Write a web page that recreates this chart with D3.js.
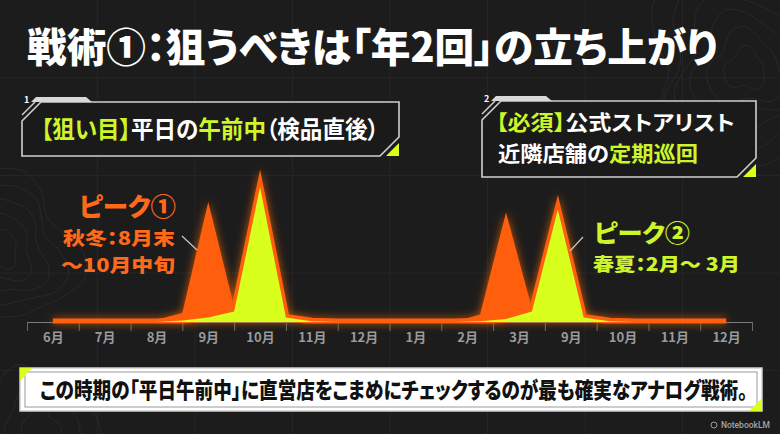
<!DOCTYPE html>
<html>
<head>
<meta charset="utf-8">
<script src="https://cdn.jsdelivr.net/npm/d3@7"></script>
<style>
  html, body { margin: 0; padding: 0; background: #1c1c1c; }
  svg { display: block; font-family: "Noto Sans CJK JP", "Noto Sans", sans-serif; }
  svg text { font-feature-settings: "palt"; }
</style>
</head>
<body>
<script>
// x axis categories (one band per month)
const months = ["6月","7月","8月","9月","10月","11月","12月","1月","2月","3月","9月","10月","11月","12月"]

// sample positions in month units (0 = first 6月) and the two series
const samplePos    = [0, 1.5, 2, 2.5, 3, 3.5, 4, 4.5, 5, 5.5, 7.75, 8.25, 8.75, 9.25, 9.75, 10.25, 10.75, 11.25, 13]
const orangeValues = [0, 0, 1.5, 6, 80, 10, 8, 4, 1, 0, 0, 5, 73, 9, 8, 3, 0.5, 0, 0]
const limeValues   = [0, 0, 0, 1, 3, 7, 90, 3, 0.5, 0, 0, 0.5, 2, 7, 75, 3, 0.5, 0, 0]

const W = 780, H = 434
const ORANGE = "#ff5e0e", LIME = "#d9ff1e", TXT_LIME = "#cdf52a"

const svg = d3.select("body").append("svg")
    .attr("width", W)
    .attr("height", H)

const defs = svg.append("defs")

const glow = defs.append("filter").attr("id", "glow")
    .attr("x", "-20%").attr("y", "-20%").attr("width", "140%").attr("height", "140%")
glow.append("feGaussianBlur").attr("in", "SourceAlpha").attr("stdDeviation", 4).attr("result", "b")
glow.append("feFlood").attr("flood-color", "#ff6a00").attr("flood-opacity", 0.75)
glow.append("feComposite").attr("in2", "b").attr("operator", "in").attr("result", "g")
const gm = glow.append("feMerge")
gm.append("feMergeNode").attr("in", "g")
gm.append("feMergeNode").attr("in", "SourceGraphic")

defs.append("clipPath").attr("id", "above")
  .append("rect").attr("x", 0).attr("y", 0).attr("width", W).attr("height", 323.5)

// background
svg.append("rect").attr("width", W).attr("height", H).attr("fill", "#1c1c1c")

// faint background grid
const bg = svg.append("g").attr("stroke", "#252525").attr("stroke-width", 1)
d3.range(97.5, W, 97.5).forEach(v => {
  bg.append("line").attr("x1", v).attr("x2", v).attr("y1", 0).attr("y2", H)
})
d3.range(78, H, 97.5).forEach(v => {
  bg.append("line").attr("x1", 0).attr("x2", W).attr("y1", v).attr("y2", v)
})

// faint contour decoration
const contour = d3.lineRadial().curve(d3.curveCardinalClosed)
function contours(cx, cy, radii, phase) {
  const g = svg.append("g").attr("transform", `translate(${cx},${cy})`)
      .attr("fill", "none").attr("stroke", "#2c2c2c").attr("stroke-width", 0.8)
  radii.forEach((r, i) => {
    const pts = d3.range(0, Math.PI * 2, Math.PI / 10)
        .map(a => [a, r * (1 + 0.16 * Math.sin(3 * a + phase + i * 0.4) + 0.08 * Math.cos(5 * a + i))])
    g.append("path").attr("d", contour(pts))
  })
}
contours(0, 250, [18, 32, 46, 60, 74], 0.3)
contours(745, 70, [20, 36, 52, 68, 84, 100], 1.2)
contours(40, 430, [20, 38, 56], 2.0)

// scales
const x = d3.scaleLinear().domain([-0.5, 13.5]).range([27, 752])
const y = d3.scaleLinear().domain([0, 100]).range([322, 172])

// axis: tick marks at band edges
const axisG = svg.append("g")
    .attr("transform", `translate(0,${y(0)})`)
    .call(d3.axisBottom(x).tickValues(d3.range(-0.5, 14, 1)).tickSize(9).tickSizeOuter(0).tickFormat(""))
axisG.select(".domain").attr("stroke", "#7d7d7d").attr("stroke-width", 1.2)
axisG.selectAll(".tick line").attr("stroke", "#6a6a6a")

// axis labels at band centres
const labG = svg.append("g")
    .attr("transform", `translate(0,${y(0)})`)
    .call(d3.axisBottom(x).tickValues(d3.range(months.length)).tickSize(0).tickPadding(11)
        .tickFormat(i => months[i]))
labG.select(".domain").remove()
labG.selectAll("text")
    .attr("fill", "#9a9a9a")
    .attr("font-size", 13)
    .attr("font-weight", 700)
    .attr("font-family", "'Noto Sans CJK JP', sans-serif")

// series
const orange = samplePos.map((p, i) => ({p, v: orangeValues[i]}))
const lime   = samplePos.map((p, i) => ({p, v: limeValues[i]}))

const area = d3.area()
    .x(d => x(d.p))
    .y0(y(0))
    .y1(d => y(d.v))
const line = d3.line()
    .x(d => x(d.p))
    .y(d => y(d.v))

const plot = svg.append("g").attr("filter", "url(#glow)")

plot.append("path")
    .datum(orange)
    .attr("d", area)
    .attr("fill", ORANGE)

plot.append("g").attr("clip-path", "url(#above)")
  .append("path")
    .datum(lime)
    .attr("d", line)
    .attr("fill", "none")
    .attr("stroke", ORANGE)
    .attr("stroke-width", 7)
    .attr("stroke-linejoin", "miter")
    .attr("stroke-miterlimit", 14)

plot.append("path")
    .datum(lime)
    .attr("d", area)
    .attr("fill", LIME)

// squeeze a text horizontally so it spans the given width
function fit(t, x0, y0, width) {
  const natural = t.node().getComputedTextLength()
  const sx = width / natural
  t.attr("x", 0).attr("y", 0)
   .attr("transform", `translate(${x0},${y0}) scale(${sx},1)`)
  return t
}

// title
fit(svg.append("text")
    .attr("font-size", 40).attr("font-weight", 900)
    .attr("fill", "#fff")
    .text("戦術①：狙うべきは「年2回」の立ち上がり"), 27, 62, 691)

// callout boxes
function callout(x0, y0, x1, y1, num) {
  const g = svg.append("g")
  const c = 19
  g.append("path")
      .attr("d", `M${x0},${y0 + c} L${x0 + c},${y0} L${x1},${y0} L${x1},${y1 - c} L${x1 - c},${y1} L${x0},${y1} Z`)
      .attr("fill", "#1a1a1a")
      .attr("stroke", "#d0d0d0")
      .attr("stroke-width", 1.6)
  g.append("path")
      .attr("d", `M${x0 + 14},${y0 - 5} L${x0 + 64},${y0 - 5} L${x0 + 70},${y0} L${x0 + 9},${y0} Z`)
      .attr("fill", "#d8d8d8")
  g.append("path")
      .attr("d", `M${x0},${y0 + c - 6} L${x0 + c - 6},${y0}`)
      .attr("stroke", "#d0d0d0").attr("stroke-width", 1.4)
  g.append("text")
      .attr("x", x0 + 2).attr("y", y0 + 1)
      .attr("font-size", 9).attr("font-weight", 700)
      .attr("fill", "#fff")
      .text(num)
  g.append("path")
      .attr("d", `M${x1},${y1 - 13} L${x1},${y1} L${x1 - 13},${y1} Z`)
      .attr("fill", LIME)
  return g
}

callout(22, 102, 399, 156, "1")
callout(482, 101, 756, 177, "2")

function rich(x0, y0, size, len, parts) {
  const t = svg.append("text")
      .attr("font-size", size).attr("font-weight", 700)
  parts.forEach(([s, col]) => t.append("tspan").attr("fill", col).text(s))
  fit(t, x0, y0, len)
}

rich(41, 138, 24, 338, [["【狙い目】", TXT_LIME], ["平日の", "#fff"], ["午前中", TXT_LIME], ["（検品直後）", "#fff"]])
rich(496, 130, 21, 239, [["【必須】", TXT_LIME], ["公式ストアリスト", "#fff"]])
rich(498, 161, 21, 200, [["近隣店舗の", "#fff"], ["定期巡回", TXT_LIME]])

// peak labels: [text, x, baseline, size, width]
const peak1 = [["ピーク①", 79, 216, 25, 97], ["秋冬：8月末", 63, 245, 18.5, 112], ["～10月中旬", 61, 272, 18.5, 114]]
peak1.forEach(([s, xx, yy, fs, w]) => {
  fit(svg.append("text")
      .attr("font-size", fs).attr("font-weight", 900)
      .attr("fill", "#ff6a1a")
      .text(s), xx, yy, w)
})
const peak2 = [["ピーク②", 594, 242, 24, 96], ["春夏：2月～ 3月", 593, 271, 18.5, 147]]
peak2.forEach(([s, xx, yy, fs, w]) => {
  fit(svg.append("text")
      .attr("font-size", fs).attr("font-weight", 900)
      .attr("fill", TXT_LIME)
      .text(s), xx, yy, w)
})

svg.append("line").attr("x1", 182).attr("y1", 236).attr("x2", 197).attr("y2", 250)
    .attr("stroke", "#c8c8c8").attr("stroke-width", 1.2)
svg.append("line").attr("x1", 583).attr("y1", 237).attr("x2", 570).attr("y2", 251)
    .attr("stroke", "#c8c8c8").attr("stroke-width", 1.2)

// bottom banner
const bn = svg.append("g")
bn.append("rect").attr("x", 20).attr("y", 368).attr("width", 742).attr("height", 43)
    .attr("fill", "#fff").attr("stroke", "#cfcfcf").attr("stroke-width", 1.5)
bn.append("rect").attr("x", 25).attr("y", 372).attr("width", 732).attr("height", 35)
    .attr("fill", "none").attr("stroke", "#9a9a9a").attr("stroke-width", 1)
bn.append("path").attr("d", "M20,368 L32,368 L20,381 Z").attr("fill", LIME)
bn.append("path").attr("d", "M762,398 L762,411 L749,411 Z").attr("fill", LIME)
fit(bn.append("text")
    .attr("font-size", 22).attr("font-weight", 900)
    .attr("fill", "#111")
    .text("この時期の「平日午前中」に直営店をこまめにチェックするのが最も確実なアナログ戦術。"), 40, 398, 708)

// watermark
svg.append("circle").attr("cx", 714).attr("cy", 425).attr("r", 3)
    .attr("fill", "none").attr("stroke", "#9a9a9a").attr("stroke-width", 1)
svg.append("text")
    .attr("x", 770).attr("y", 428)
    .attr("text-anchor", "end")
    .attr("font-size", 8.5).attr("font-weight", 500)
    .attr("font-family", "Roboto, sans-serif")
    .attr("fill", "#a5a5a5")
    .text("NotebookLM")
</script>
</body>
</html>
